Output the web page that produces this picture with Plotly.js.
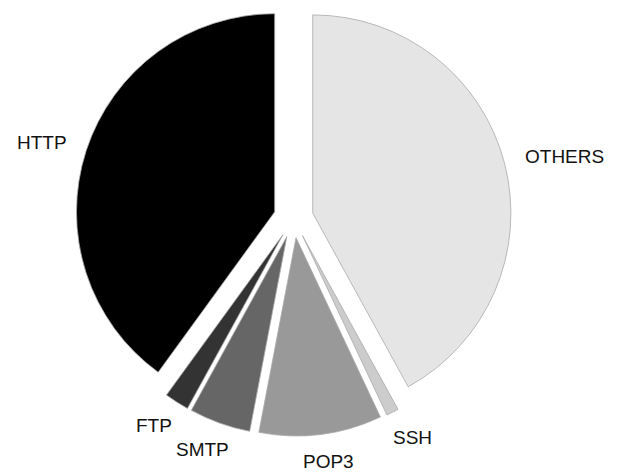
<!DOCTYPE html>
<html>
<head>
<meta charset="utf-8">
<script src="https://cdn.plot.ly/plotly-3.0.1.min.js"></script>
<style>html,body{margin:0;padding:0;background:#fff;}#chart{width:622px;height:476px;}</style>
</head>
<body>
<div id="chart"></div>
<script>
// Data
var labels = ["OTHERS", "SSH", "POP3", "SMTP", "FTP", "HTTP"];
var values = [42, 1, 10, 5, 2, 40];
var colors = ["#e5e5e5", "#cccccc", "#999999", "#666666", "#333333", "#000000"];

// Layout constants
var W = 622, H = 476;
var domX = [0.1214, 0.8224];
var domY = [0.0840, 1.0];
var pull = 0.1;
var labelDist = 1.2;
var fontSize = 19;
var fontFamily = "Liberation Sans, Arial, sans-serif";

// Geometry as Plotly computes it
var boxW = W * (domX[1] - domX[0]);
var boxH = H * (domY[1] - domY[0]);
var r = Math.min(boxW, boxH) / 2 / (1 + pull);
var cx = W * (domX[0] + domX[1]) / 2;
var cy = H * (1 - domY[0]) - boxH / 2;

var ctx = document.createElement("canvas").getContext("2d");
ctx.font = fontSize + "px " + fontFamily;

var total = values.reduce(function (a, b) { return a + b; }, 0);
var annotations = [];
var cum = 0;
for (var i = 0; i < values.length; i++) {
  var mid = (cum + values[i] / 2) / total * 2 * Math.PI;
  cum += values[i];
  var ux = Math.sin(mid), uy = -Math.cos(mid);
  var d = labelDist * r;
  var px = cx + d * ux, py = cy + d * uy;
  var tw = ctx.measureText(labels[i]).width;
  var th = 16;
  annotations.push({
    xref: "paper", yref: "paper",
    x: px / W, y: 1 - py / H,
    xanchor: "center", yanchor: "middle",
    xshift: tw / 2 * ux + (ux > 0 ? 2 : -2),
    yshift: -(th / 2) * uy,
    text: labels[i],
    showarrow: false,
    font: {family: fontFamily, size: fontSize, color: "#111111"}
  });
}

var trace = {
  type: "pie",
  labels: labels,
  values: values,
  sort: false,
  direction: "clockwise",
  rotation: 0,
  pull: values.map(function () { return pull; }),
  textinfo: "none",
  hoverinfo: "label+percent",
  domain: {x: domX, y: domY},
  marker: {colors: colors, line: {color: "#aaaaaa", width: 0.8}}
};

var layout = {
  width: W, height: H,
  margin: {l: 0, r: 0, t: 0, b: 0, pad: 0},
  showlegend: false,
  paper_bgcolor: "#ffffff",
  annotations: annotations
};

Plotly.newPlot("chart", [trace], layout, {displayModeBar: false, staticPlot: true});
</script>
</body>
</html>
